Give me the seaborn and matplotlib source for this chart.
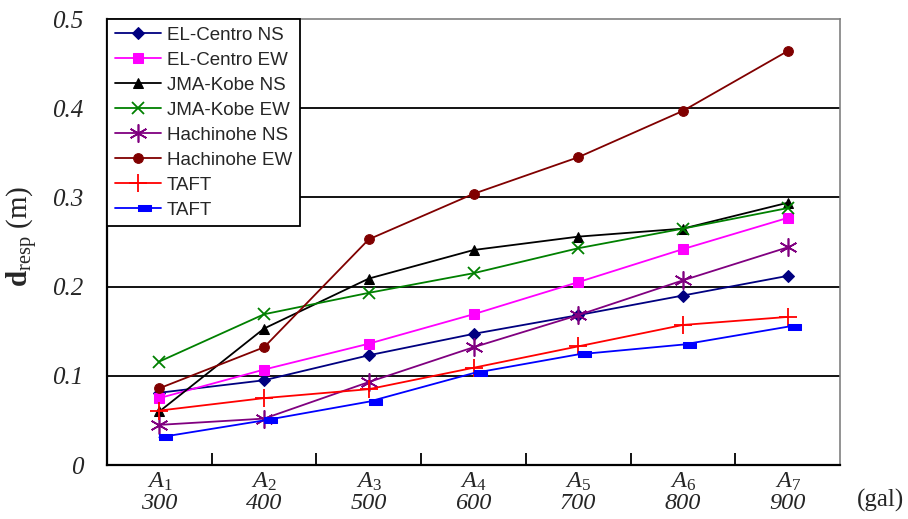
import matplotlib
matplotlib.use("Agg")
import matplotlib.pyplot as plt
import seaborn as sns
import numpy as np
import pandas as pd

# Seismic level categories and peak ground accelerations
levels = ["A_1", "A_2", "A_3", "A_4", "A_5", "A_6", "A_7"]
pga = ["300", "400", "500", "600", "700", "800", "900"]

# Response displacement d_resp (m) per input ground motion
el_centro_ns = [0.081, 0.095, 0.123, 0.147, 0.168, 0.190, 0.212]
el_centro_ew = [0.075, 0.107, 0.136, 0.169, 0.205, 0.242, 0.277]
jma_kobe_ns = [0.060, 0.153, 0.209, 0.241, 0.256, 0.265, 0.294]
jma_kobe_ew = [0.116, 0.169, 0.193, 0.215, 0.243, 0.265, 0.288]
hachinohe_ns = [0.045, 0.052, 0.093, 0.132, 0.168, 0.207, 0.244]
hachinohe_ew = [0.086, 0.132, 0.253, 0.304, 0.345, 0.397, 0.464]
taft_1 = [0.061, 0.075, 0.085, 0.109, 0.133, 0.157, 0.166]
taft_2 = [0.031, 0.050, 0.071, 0.103, 0.124, 0.135, 0.155]

series_names = ["EL-Centro NS", "EL-Centro EW", "JMA-Kobe NS", "JMA-Kobe EW",
                "Hachinohe NS", "Hachinohe EW", "TAFT", "TAFT"]
series_values = [el_centro_ns, el_centro_ew, jma_kobe_ns, jma_kobe_ew,
                 hachinohe_ns, hachinohe_ew, taft_1, taft_2]

y_ticks = [0, 0.1, 0.2, 0.3, 0.4, 0.5]
y_tick_labels = ["0", "0.1", "0.2", "0.3", "0.4", "0.5"]

# Small horizontal bar marker sitting to the right of the data point
bar_marker = [(0, -0.19), (1, -0.19), (1, 0.19), (0, 0.19), (0, -0.19)]

styles = [
    dict(color="#000080", marker="D", markersize=6),
    dict(color="#FF00FF", marker="s", markersize=7.5),
    dict(color="#000000", marker="^", markersize=7.5),
    dict(color="#008000", marker="x", markersize=8, markeredgewidth=1.3),
    dict(color="#800080", marker=(6, 2, 0), markersize=13, markeredgewidth=1.2),
    dict(color="#800000", marker="o", markersize=7),
    dict(color="#FF0000", marker="+", markersize=13, markeredgewidth=1.3),
    dict(color="#0000FF", marker=bar_marker, markersize=19),
]

sns.set_theme(style="white")
plt.rcParams["font.family"] = ["Liberation Serif", "DejaVu Serif"]
plt.rcParams["mathtext.fontset"] = "custom"
plt.rcParams["mathtext.rm"] = "Liberation Serif"
plt.rcParams["mathtext.it"] = "Liberation Serif:italic"
plt.rcParams["mathtext.bf"] = "Liberation Serif:bold"

fig = plt.figure(figsize=(9.08, 5.19), dpi=100)
ax = fig.add_axes([107 / 908, 1 - 465 / 519, 733 / 908, 446 / 519])

x_pos = np.arange(len(levels))
for name, vals, st in zip(series_names, series_values, styles):
    df = pd.DataFrame({"level": x_pos, "d": vals})
    sns.lineplot(data=df, x="level", y="d", ax=ax, label=name,
                 linewidth=1.3, markeredgecolor=st["color"], zorder=3, **st)

ax.set_xlim(-0.5, len(levels) - 0.5)
ax.set_ylim(0, 0.5)

# Horizontal grid lines at the interior y ticks only
for v in y_ticks[1:-1]:
    ax.axhline(v, color="black", linewidth=1.3, zorder=1)

ax.set_yticks(y_ticks)
ax.set_yticklabels(y_tick_labels, fontsize=18, fontstyle="italic")
ax.tick_params(axis="y", length=0, pad=17)

ax.set_xticks(x_pos)
ax.set_xticklabels([f"${lv}$\n{g}" for lv, g in zip(levels, pga)],
                   fontsize=17.5, fontstyle="italic", linespacing=1.0)
ax.tick_params(axis="x", which="major", length=0, pad=4)
ax.set_xticks(x_pos[:-1] + 0.5, minor=True)
ax.tick_params(axis="x", which="minor", direction="in", length=9,
               width=1.3, color="black", bottom=True)

ax.set_xlabel("")
ax.set_ylabel(r"$\mathbf{d}_{\mathrm{resp}}$ (m)", fontsize=21)
ax.yaxis.set_label_coords(-0.0915, 0.512)

for side in ("left", "bottom"):
    ax.spines[side].set_color("black")
    ax.spines[side].set_linewidth(1.6)
for side in ("top", "right"):
    ax.spines[side].set_color("#808080")
    ax.spines[side].set_linewidth(1.2)

leg = ax.legend(loc="upper left", bbox_to_anchor=(0, 1), borderaxespad=0,
                prop={"family": "Liberation Sans", "size": 13.5},
                handlelength=2.5, handletextpad=0.3, labelspacing=0.42,
                borderpad=0.4, fancybox=False, framealpha=1)
leg.get_frame().set_edgecolor("black")
leg.get_frame().set_linewidth(1.3)
leg.set_zorder(5)

fig.text(880 / 908, 1 - 500 / 519, "(gal)", fontsize=18, ha="center", va="center")

fig.savefig("out.png", dpi=100)
